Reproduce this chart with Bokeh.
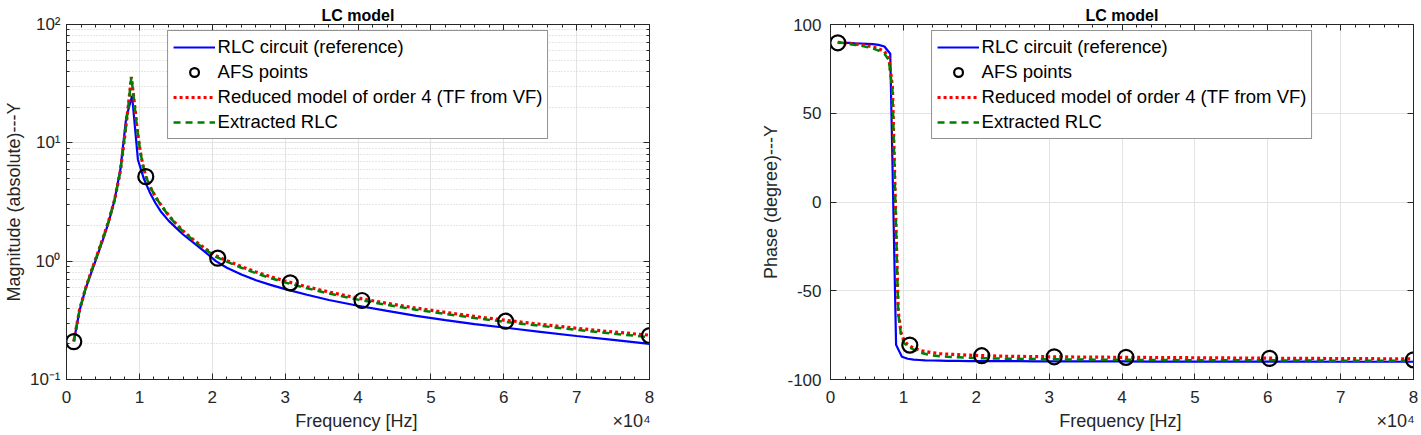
from bokeh.plotting import figure
from bokeh.layouts import row
from bokeh.models import (Range1d, FixedTicker, SingleIntervalTicker, CustomJSTickFormatter,
                          LinearAxis, LogAxis, Legend, LegendItem)
from bokeh.embed import file_html
from bokeh.resources import INLINE

# ---------------- data ----------------
freq_ref = [1000, 1800, 2600, 3400, 4200, 5000, 5800, 6600, 7400, 8200, 9000,
            9800, 10600, 11400, 12200, 13000, 14000, 15000, 16000, 17500, 19000, 20500,
            22000, 24000, 26000, 28000, 30000, 33000, 36000, 40000, 44000, 48000, 52000,
            56000, 60000, 65000, 70000, 75000, 80000]
mag_ref = [0.21, 0.385, 0.58, 0.8, 1.1, 1.52, 2.15, 3.3, 6.0, 16.4, 25.0,
           7.2, 5.0, 3.85, 3.1, 2.6, 2.2, 1.92, 1.68, 1.42, 1.2, 1.0,
           0.88, 0.77, 0.69, 0.63, 0.58, 0.52, 0.47, 0.42, 0.38, 0.345, 0.318,
           0.294, 0.275, 0.253, 0.233, 0.216, 0.2]
phase_ref = [89.8, 89.7, 89.6, 89.4, 89.3, 89.1, 88.9, 88.5, 87.6, 83.5, -80.5,
             -87.2, -88.3, -88.8, -89.0, -89.2, -89.3, -89.4, -89.5, -89.5, -89.6, -89.6,
             -89.7, -89.7, -89.7, -89.8, -89.8, -89.8, -89.8, -89.8, -89.9, -89.9, -89.9,
             -89.9, -89.9, -89.9, -90.0, -90.0, -90.0]

freq_fit = [1000, 1800, 2600, 3400, 4200, 5000, 5800, 6600, 7400, 8000, 8500, 8900,
            9300, 9700, 10100, 10500, 10900, 11600, 12400, 13200, 14000, 15000, 16000,
            17500, 19000, 20500, 22000, 24000, 26000, 28000, 30000, 33000, 36000, 40000,
            44000, 48000, 52000, 56000, 60000, 65000, 70000, 75000, 80000]
mag_vf = [0.21, 0.39, 0.585, 0.82, 1.13, 1.56, 2.2, 3.3, 5.8, 11.5, 21.0, 36.0,
          22.0, 13.0, 8.6, 6.4, 5.18, 4.1, 3.35, 2.85, 2.45, 2.08, 1.8,
          1.5, 1.28, 1.11, 1.01, 0.9, 0.81, 0.74, 0.68, 0.607, 0.549, 0.487,
          0.44, 0.401, 0.369, 0.341, 0.318, 0.293, 0.271, 0.252, 0.237]
phase_vf = [89.9, 89.6, 89.3, 89.0, 88.6, 88.1, 87.4, 86.4, 84.8, 81.5, 65.0, 0.0,
            -62.0, -74.0, -78.0, -80.0, -81.2, -82.6, -83.7, -84.4, -84.9, -85.4, -85.7,
            -86.0, -86.3, -86.5, -86.7, -86.9, -87.0, -87.1, -87.2, -87.3, -87.4, -87.5,
            -87.6, -87.7, -87.8, -87.9, -88.0, -88.1, -88.2, -88.3, -88.4]
mag_rlc = [0.21, 0.39, 0.585, 0.82, 1.13, 1.56, 2.2, 3.3, 5.8, 11.5, 21.0, 36.0,
           22.0, 13.0, 8.6, 6.4, 5.18, 4.1, 3.35, 2.84, 2.43, 2.06, 1.78,
           1.48, 1.26, 1.09, 0.99, 0.88, 0.79, 0.72, 0.66, 0.59, 0.533, 0.473,
           0.427, 0.389, 0.358, 0.331, 0.308, 0.284, 0.263, 0.244, 0.228]
phase_rlc = [90.0, 89.5, 89.0, 88.5, 88.0, 87.3, 86.5, 85.3, 83.5, 80.0, 63.0, 0.0,
             -63.0, -75.5, -79.5, -81.0, -82.0, -83.6, -84.9, -85.8, -86.4, -86.9, -87.2,
             -87.5, -87.8, -88.0, -88.1, -88.3, -88.4, -88.5, -88.6, -88.7, -88.8, -88.9,
             -89.0, -89.1, -89.1, -89.2, -89.2, -89.3, -89.4, -89.4, -89.5]

freq_afs = [1000, 10880, 20750, 30700, 40550, 60250, 80000]
mag_afs = [0.209, 5.18, 1.06, 0.656, 0.465, 0.311, 0.235]
phase_afs = [89.7, -80.6, -86.6, -87.2, -87.5, -88.1, -88.9]

legend_labels = ["RLC circuit (reference)", "AFS points",
                 "Reduced model of order 4 (TF from VF)", "Extracted RLC"]
title_text = "LC model"
x_label = "Frequency [Hz]"
y_labels = ["Magnitude (absolute)---Y", "Phase (degree)---Y"]
x_exp_label = "\u00d710\u2074"

# ---------------- styling ----------------
FONT = "Liberation Sans"
INK = "#262626"
GRID = "#e3e3e3"
FRAME_H = 355
BORDER_TOP = 24
BORDER_BOTTOM = 56
NBSP = "\u00a0"


def empty_fmt():
    return CustomJSTickFormatter(code="return '';")


def style_axis(ax, ticker, fmt, label=None, size="17px"):
    ax.ticker = ticker
    ax.formatter = fmt
    ax.axis_line_color = INK
    ax.major_tick_line_color = INK
    ax.minor_tick_line_color = INK
    ax.major_tick_in = 6
    ax.major_tick_out = 0
    ax.minor_tick_in = 3
    ax.minor_tick_out = 0
    ax.major_label_text_font = FONT
    ax.major_label_text_font_size = size
    ax.major_label_text_color = INK
    if label is not None:
        ax.axis_label = label
        ax.axis_label_text_font = FONT
        ax.axis_label_text_font_size = "18px"
        ax.axis_label_text_font_style = "normal"
        ax.axis_label_text_color = INK


def build(side):
    log = side == 0
    if log:
        yr = Range1d(0.1, 100)
        yticker = FixedTicker(ticks=[0.1, 1, 10, 100],
                              minor_ticks=[m * 10.0 ** e for e in (-1, 0, 1) for m in range(2, 10)])
        yfmt = CustomJSTickFormatter(code="""
            const e = Math.round(Math.log10(tick));
            const m = {'-':'\\u207b','0':'\\u2070','1':'\\u00b9','2':'\\u00b2','3':'\\u00b3',
                       '4':'\\u2074','5':'\\u2075','6':'\\u2076','7':'\\u2077','8':'\\u2078','9':'\\u2079'};
            return '10' + String(e).split('').map(c => m[c]).join('');
        """)
        bl, br = 65, 101
        ylab_standoff, ytick_standoff = 3, 6
    else:
        yr = Range1d(-100, 100)
        yticker = SingleIntervalTicker(interval=50, num_minor_ticks=0)
        yfmt = CustomJSTickFormatter(code="return tick.toFixed(0);")
        bl, br = 80, 9
        ylab_standoff, ytick_standoff = 3, 9

    p = figure(frame_width=583, frame_height=FRAME_H,
               x_range=Range1d(0, 80000), y_range=yr,
               y_axis_type="log" if log else "linear",
               output_backend="svg", toolbar_location=None,
               min_border_left=bl, min_border_right=br,
               min_border_top=BORDER_TOP, min_border_bottom=BORDER_BOTTOM,
               background_fill_color="white", border_fill_color="white")
    p.outline_line_color = INK
    p.outline_line_width = 1

    p.title.text = title_text
    p.title.align = "center"
    p.title.text_font = FONT
    p.title.text_font_size = "16px"
    p.title.text_font_style = "bold"
    p.title.text_color = "black"
    p.title.standoff = 2

    xticker = SingleIntervalTicker(interval=10000, num_minor_ticks=5)
    xfmt = CustomJSTickFormatter(code="return (tick/10000).toFixed(0);")

    # axis label centred on the frame, with the x10^4 multiplier at its right end
    xl = NBSP * 46 + x_label + NBSP * 39 + x_exp_label
    style_axis(p.xaxis[0], xticker, xfmt, xl)
    p.xaxis[0].major_label_standoff = 11
    p.xaxis[0].axis_label_standoff = 5
    style_axis(p.yaxis[0], yticker, yfmt, y_labels[side])
    p.yaxis[0].major_label_standoff = ytick_standoff
    p.yaxis[0].axis_label_standoff = ylab_standoff

    top = LinearAxis()
    style_axis(top, xticker, empty_fmt(), size="1px")
    top.major_label_standoff = 0
    p.add_layout(top, "above")
    right = LogAxis() if log else LinearAxis()
    style_axis(right, yticker, empty_fmt(), size="1px")
    right.major_label_standoff = 0
    p.add_layout(right, "right")

    p.xgrid.ticker = xticker
    p.ygrid.ticker = yticker
    p.xgrid.grid_line_color = GRID
    p.ygrid.grid_line_color = GRID
    if log:
        p.ygrid.minor_grid_line_color = "#cdcdcd"
        p.ygrid.minor_grid_line_dash = "1 2"
        p.ygrid.minor_grid_line_width = 1

    yref = mag_ref if log else phase_ref
    yvf = mag_vf if log else phase_vf
    yrlc = mag_rlc if log else phase_rlc
    yafs = mag_afs if log else phase_afs

    r_ref = p.line(freq_ref, yref, line_color="#0000ff", line_width=2.2)
    r_vf = p.line(freq_fit, yvf, line_color="#ff0000", line_width=3.2, line_dash="3 3")
    r_rlc = p.line(freq_fit, yrlc, line_color="#008000", line_width=2.5, line_dash="7 5")
    r_afs = p.scatter(freq_afs, yafs, marker="circle", size=15, fill_color=None,
                      line_color="black", line_width=2.2)

    legend = Legend(items=[LegendItem(label=legend_labels[0], renderers=[r_ref]),
                           LegendItem(label=legend_labels[1], renderers=[r_afs]),
                           LegendItem(label=legend_labels[2], renderers=[r_vf]),
                           LegendItem(label=legend_labels[3], renderers=[r_rlc])],
                    location="top_center")
    legend.border_line_color = INK
    legend.border_line_width = 1
    legend.background_fill_color = "white"
    legend.background_fill_alpha = 1
    legend.label_text_font = FONT
    legend.label_text_font_size = "18.5px"
    legend.label_text_color = "black"
    legend.glyph_width = 42
    legend.glyph_height = 22
    legend.label_height = 20
    legend.label_standoff = 3
    legend.spacing = 3
    legend.padding = 5
    legend.margin = 6
    p.add_layout(legend)
    return p


p1 = build(0)
p2 = build(1)
layout = row(p1, p2)

open("out.html", "w", encoding="utf-8").write(file_html(layout, INLINE))
